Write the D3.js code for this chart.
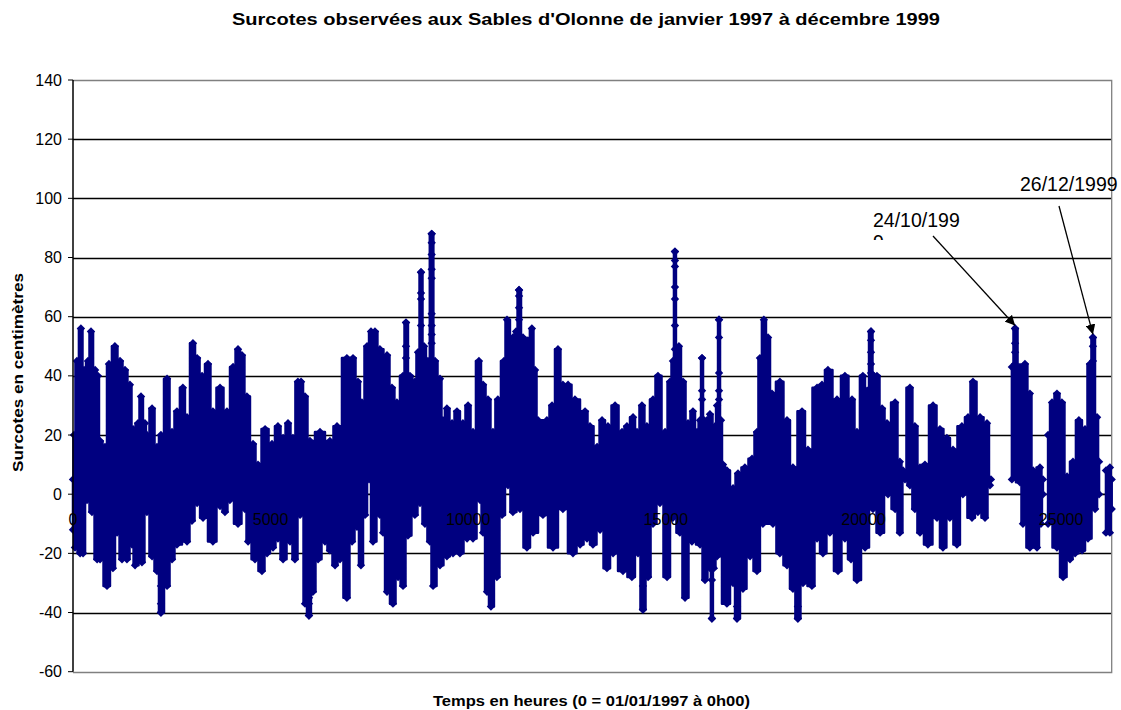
<!DOCTYPE html>
<html><head><meta charset="utf-8">
<script src="https://cdn.jsdelivr.net/npm/d3@7"></script>
<style>body{margin:0;background:#fff} svg{display:block;font-family:"Liberation Sans",Arial,sans-serif}</style>
</head><body><svg id="c" width="1121" height="710"></svg>
<script>
// ---- data ----
const chartTitle = "Surcotes observées aux Sables d'Olonne de janvier 1997 à décembre 1999";
const xTitle = "Temps en heures (0 = 01/01/1997 à 0h00)";
const yTitle = "Surcotes en centimètres";
const xTicks = [0, 5000, 10000, 15000, 20000, 25000];
const yTicks = [-60, -40, -20, 0, 20, 40, 60, 80, 100, 120, 140];
// upper envelope of the hourly surges [hour, cm]
const upper = [[0,5],[25,20],[100,45],[200,56],[280,42],[380,45],[455,55],[560,42],[630,40],[685,18],[810,16],[910,44],[1060,50],[1190,45],[1315,42],[1440,37],[1520,22],[1645,24],[1720,33],[1820,24],[1870,20],[2000,29],[2125,16],[2225,20],[2380,39],[2505,21],[2630,28],[2780,36],[2885,26],[3035,51],[3140,46],[3265,40],[3415,44],[3540,28],[3720,36],[3895,28],[4050,43],[4175,49],[4275,47],[4400,33],[4555,17],[4680,10],[4860,22],[5035,17],[5185,23],[5315,19],[5440,24],[5565,19],[5690,38],[5770,38],[5870,33],[5995,18],[6250,21],[6500,18],[6680,23],[6930,46],[7085,46],[7210,38],[7310,31],[7440,50],[7540,55],[7640,55],[7765,49],[7945,47],[8070,36],[8195,31],[8350,40],[8425,58],[8525,40],[8650,38],[8730,48],[8805,75],[8880,50],[8980,45],[9075,88],[9160,45],[9285,39],[9360,25],[9460,29],[9590,24],[9715,28],[9865,24],[9995,30],[10120,21],[10270,45],[10375,37],[10500,32],[10625,21],[10750,32],[10905,45],[10980,59],[11130,53],[11210,55],[11285,69],[11385,53],[11510,52],[11610,56],[11690,42],[11765,25],[11990,25],[12120,30],[12270,49],[12395,37],[12525,37],[12700,32],[12955,28],[13080,23],[13260,16],[13385,25],[13535,23],[13715,30],[13890,21],[14015,23],[14170,26],[14270,21],[14395,30],[14520,23],[14675,32],[14800,40],[14980,21],[15105,38],[15180,45],[15230,82],[15280,45],[15330,50],[15435,38],[15560,24],[15685,28],[15790,21],[15865,25],[15915,46],[15965,25],[16040,25],[16115,27],[16245,23],[16295,30],[16345,59],[16395,25],[16445,10],[16545,8],[16700,2],[16825,7],[17000,9],[17180,12],[17305,21],[17380,46],[17480,59],[17585,53],[17685,34],[17885,38],[18065,25],[18215,9],[18445,28],[18595,15],[18825,36],[18950,37],[19100,42],[19330,32],[19530,40],[19710,32],[19835,21],[19985,40],[20090,35],[20190,55],[20265,40],[20340,40],[20470,29],[20595,24],[20800,31],[20920,11],[21000,8],[21175,36],[21300,23],[21430,9],[21555,10],[21760,30],[21935,22],[22110,19],[22265,15],[22490,23],[22645,26],[22770,38],[22950,26],[23125,24],[23225,5],[23755,43],[23835,56],[23960,43],[24085,44],[24210,34],[24290,8],[24465,9],[24540,5],[24670,20],[24770,31],[24895,34],[25020,31],[25150,6],[25300,11],[25450,25],[25605,22],[25730,44],[25805,53],[25910,26],[25960,11],[26135,8],[26235,9],[26280,5]];
// lower envelope [hour, cm]
const lower = [[0,-12],[50,-18],[180,-20],[255,-20],[355,-2],[480,-6],[610,-22],[685,-22],[860,-31],[1010,-25],[1115,-13],[1240,-22],[1365,-22],[1495,-17],[1570,-24],[1745,-23],[1870,-6],[2000,-21],[2125,-26],[2225,-40],[2380,-31],[2505,-22],[2630,-17],[2885,-16],[3010,-9],[3140,-3],[3290,-8],[3540,-16],[3720,-4],[3845,-6],[3970,-2],[4175,-10],[4350,-5],[4430,-16],[4605,-22],[4780,-26],[4910,-20],[5060,-18],[5185,-15],[5315,-22],[5490,-16],[5615,-22],[5745,-7],[5795,-3],[5870,-37],[5970,-41],[6070,-33],[6200,-22],[6375,-16],[6500,-19],[6630,-24],[6755,-22],[6930,-35],[7060,-16],[7185,-11],[7285,-24],[7390,-7],[7490,5],[7590,-16],[7765,-7],[7845,-13],[7945,-33],[8095,-37],[8225,-28],[8350,-31],[8475,-14],[8650,-7],[8780,-3],[8905,-10],[9030,-16],[9110,-31],[9285,-24],[9460,-21],[9615,-20],[9790,-20],[9970,-15],[10120,-15],[10300,-2],[10375,-13],[10475,-33],[10575,-38],[10725,-28],[10855,-7],[11005,3],[11130,-6],[11310,-5],[11485,-18],[11640,-13],[11890,-7],[12145,-18],[12395,-5],[12650,-20],[12830,-17],[13005,-15],[13155,-17],[13335,-12],[13510,-25],[13665,-20],[13915,-26],[14140,-28],[14295,-20],[14420,-39],[14550,-28],[14675,-10],[14850,-3],[15030,-28],[15180,-8],[15355,-13],[15485,-35],[15660,-16],[15865,-17],[15990,-29],[16115,-25],[16165,-42],[16215,-25],[16295,-21],[16545,-37],[16700,-30],[16800,-42],[16950,-32],[17130,-21],[17305,-26],[17455,-10],[17710,-10],[17885,-20],[18065,-24],[18215,-32],[18340,-42],[18470,-30],[18695,-31],[18825,-15],[18975,-20],[19150,-13],[19355,-26],[19530,-15],[19685,-22],[19835,-29],[20040,-18],[20240,-5],[20420,-13],[20620,0],[20800,-5],[20920,-13],[21050,5],[21175,3],[21300,-5],[21430,-13],[21630,-17],[21860,-8],[22010,-18],[22185,-8],[22365,-17],[22515,0],[22745,-8],[22895,-6],[23075,-8],[23200,3],[23755,5],[23960,4],[24035,-10],[24210,-18],[24390,-18],[24490,-10],[24540,0],[24670,-10],[24895,-18],[25050,-28],[25225,-22],[25355,-20],[25530,-19],[25680,-15],[25860,-5],[25960,0],[26135,-13],[26235,-13],[26280,-5]];
// hourly points visible along the strongest spikes [hour, cm]
const spikePoints = [[9075,88],[9075,85],[9075,81],[9075,76],[9075,73],[9075,61],[9075,57],[9075,54],[9075,51],[8805,75],[8805,68],[8805,66],[8805,57],[15230,82],[15230,79],[15230,77],[15230,70],[15230,66],[15230,57],[15230,49],[11285,69],[11285,67],[11285,63],[11285,59],[8425,58],[8425,50],[8425,46],[16345,59],[16345,53],[16345,41],[16345,35],[16345,32],[15915,46],[15915,35],[15915,32],[20190,55],[20190,52],[20190,48],[20190,44],[20190,41],[20190,36],[23835,56],[23835,51],[23835,48],[23835,44],[25805,53],[25805,50],[25805,45],[2225,-40],[2225,-37],[2225,-31],[5970,-41],[5970,-37],[5970,-35],[14420,-39],[14420,-31],[16165,-42],[16165,-29],[16800,-42],[16800,-38],[18340,-42],[18340,-38]];
// hours with no record
const gaps = [[23230, 23750], [24545, 24665], [25965, 26130]];
// annotations
const notes = [
  {lines: ["24/10/199", "9"], tx: 873, ty: 226.7, from: [933, 236], hour: 23835, value: 57},
  {lines: ["26/12/1999"], tx: 1020, ty: 191, from: [1059, 206], hour: 25805, value: 54}
];

// ---- drawing ----
const svg = d3.select("#c");
const W = 1121, H = 710;
const x = d3.scaleLinear().domain([0, 26280]).range([73, 1111.7]);
const y = d3.scaleLinear().domain([-60, 140]).range([671.7, 80]);
const navy = "#000080";

// gridlines
svg.append("g").selectAll("line").data(yTicks.filter(v => v > -60 && v < 140)).join("line")
  .attr("x1", x(0)).attr("x2", x(26280)).attr("y1", d => Math.round(y(d)) + 0.5).attr("y2", d => Math.round(y(d)) + 0.5)
  .attr("stroke", "#000").attr("stroke-width", 1.3);
// plot border (top, right, bottom)
svg.append("path").attr("d", `M${x(0)},${Math.round(y(140))+0.5}H${x(26280)}V${Math.round(y(-60))+0.5}H${x(0)}`)
  .attr("fill", "none").attr("stroke", "#808080").attr("stroke-width", 1.3);
// x axis line at 0
svg.append("line").attr("x1", x(0)).attr("x2", x(26280)).attr("y1", y(0)).attr("y2", y(0)).attr("stroke", "#000");

// series: envelope fill per recorded segment
const segBounds = [];
let s = 0;
gaps.forEach(g => { segBounds.push([s, g[0]]); s = g[1]; });
segBounds.push([s, 26280]);
const stepLine = d3.line().x(d => x(d[0])).y(d => y(d[1])).curve(d3.curveStep);
const gSeries = svg.append("g");
segBounds.forEach(([a, b]) => {
  const up = upper.filter(d => d[0] >= a && d[0] <= b);
  const lo = lower.filter(d => d[0] >= a && d[0] <= b).slice().reverse();
  if (!up.length) return;
  gSeries.append("path").attr("d", stepLine(up) + "L" + stepLine(lo).slice(1) + "Z")
    .attr("fill", navy).attr("stroke", navy).attr("stroke-width", 2.5).attr("stroke-linejoin", "round");
});
// spike stems
const stems = d3.groups(spikePoints, d => d[0]);
gSeries.selectAll("line.stem").data(stems).join("line")
  .attr("x1", d => x(d[0])).attr("x2", d => x(d[0]))
  .attr("y1", d => y(d3.max(d[1], p => p[1]))).attr("y2", d => y(d3.min(d[1], p => p[1])))
  .attr("stroke", navy).attr("stroke-width", 2);
// diamond markers
const diamond = "M0,-4.2L4.2,0L0,4.2L-4.2,0Z";
const allPts = upper.concat(lower, spikePoints);
gSeries.selectAll("path.m").data(allPts).join("path").attr("class", "m")
  .attr("d", diamond).attr("transform", d => `translate(${x(d[0])},${y(d[1])})`).attr("fill", navy);

// y axis
svg.append("line").attr("x1", x(0)).attr("x2", x(0)).attr("y1", y(140)).attr("y2", y(-60)).attr("stroke", "#000").attr("stroke-width", 1.5);
svg.append("g").selectAll("line").data(yTicks).join("line")
  .attr("x1", x(0) - 5).attr("x2", x(0)).attr("y1", d => y(d)).attr("y2", d => y(d)).attr("stroke", "#000");
svg.append("g").selectAll("text").data(yTicks).join("text")
  .attr("x", 62).attr("y", d => y(d)).attr("dy", "0.35em").attr("text-anchor", "end")
  .attr("font-size", 16).attr("fill", "#000").text(d => d);

// x tick labels (drawn over the series)
svg.append("g").selectAll("text").data(xTicks).join("text")
  .attr("x", d => x(d)).attr("y", 525).attr("text-anchor", "middle")
  .attr("font-size", 16).attr("fill", "#000").text(d => d);

// titles
svg.append("text").attr("x", 232).attr("y", 25)
  .attr("font-size", 17).attr("font-weight", "bold")
  .attr("textLength", 708).attr("lengthAdjust", "spacingAndGlyphs").text(chartTitle);
svg.append("text").attr("x", 433).attr("y", 706)
  .attr("font-size", 15).attr("font-weight", "bold")
  .attr("textLength", 317).attr("lengthAdjust", "spacingAndGlyphs").text(xTitle);
svg.append("text").attr("transform", "translate(23,472) rotate(-90)")
  .attr("font-size", 15).attr("font-weight", "bold")
  .attr("textLength", 199).attr("lengthAdjust", "spacingAndGlyphs").text(yTitle);

// annotations
const defs = svg.append("defs");
defs.append("marker").attr("id", "ah").attr("viewBox", "0 0 10 10").attr("refX", 10).attr("refY", 5)
  .attr("markerWidth", 10).attr("markerHeight", 10).attr("markerUnits", "userSpaceOnUse").attr("orient", "auto")
  .append("path").attr("d", "M0,0L10,5L0,10Z").attr("fill", "#000");
defs.append("clipPath").attr("id", "noteclip").append("rect").attr("x", 0).attr("y", 0).attr("width", W).attr("height", 240);
notes.forEach(n => {
  svg.append("line").attr("x1", n.from[0]).attr("y1", n.from[1]).attr("x2", x(n.hour)).attr("y2", y(n.value))
    .attr("stroke", "#000").attr("stroke-width", 1.3).attr("marker-end", "url(#ah)");
  const t = svg.append("text").attr("x", n.tx).attr("y", n.ty).attr("font-size", 19.5).attr("clip-path", "url(#noteclip)");
  n.lines.forEach((l, i) => t.append("tspan").attr("x", n.tx).attr("dy", i ? 22.5 : 0).text(l));
});
</script></body></html>
